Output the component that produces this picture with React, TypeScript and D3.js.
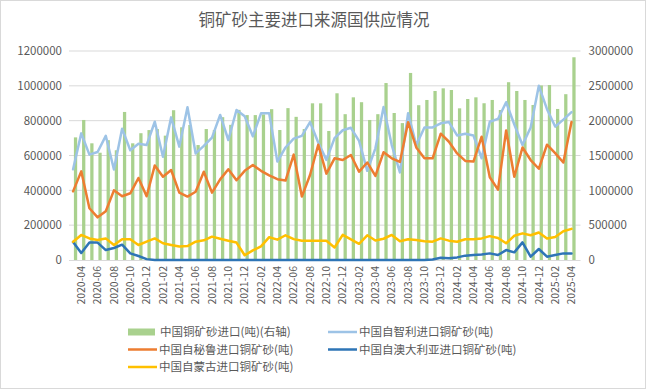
import React, { useEffect, useRef } from "react";
import * as d3 from "d3";

// categories: 2020-03 .. 2025-04 (labels shown every other month from 2020-04)
const months: string[] = d3
  .timeMonths(new Date(2020, 2, 1), new Date(2025, 4, 1))
  .map((d) => d3.timeFormat("%Y-%m")(d));

// 中国铜矿砂进口(吨) - right axis
const totalImports = [
  1760000, 2010000, 1675000, 1540000, 1720000, 1575000, 2125000, 1675000, 1820000, 1865000,
  1880000, 1785000, 2150000, 1905000, 1938000, 1650000, 1880000, 1866000, 2050000, 1940000,
  2155000, 2080000, 2080000, 2090000, 2165000, 1866000, 2180000, 2055000, 1880000, 2249000,
  2249000, 1852000, 2393000, 2093000, 2335000, 2265000, 2010000, 2093000, 2540000, 2110000,
  1965000, 2685000, 2222000, 2297000, 2426000, 2464000, 2440000, 2177000, 2311000, 2335000,
  2250000, 2297000, 2153000, 2552000, 2426000, 2297000, 2225000, 2505000, 2512000, 2168000,
  2380000, 2910000,
];

const chile = [
  521000, 727000, 605000, 620000, 713000, 520000, 754000, 630000, 667000, 660000,
  794000, 593000, 819000, 651000, 877000, 612000, 655000, 703000, 833000, 689000,
  861000, 825000, 710000, 842000, 842000, 565000, 646000, 697000, 713000, 792000,
  675000, 575000, 700000, 745000, 759000, 684000, 512000, 641000, 878000, 660000,
  503000, 843000, 660000, 761000, 761000, 785000, 792000, 715000, 725000, 715000,
  584000, 794000, 810000, 906000, 778000, 660000, 761000, 1000000, 866000, 766000,
  806000, 849000,
];

const peru = [
  394000, 509000, 297000, 245000, 280000, 400000, 366000, 383000, 471000, 366000,
  543000, 478000, 517000, 387000, 364000, 392000, 507000, 387000, 463000, 521000,
  458000, 512000, 545000, 512000, 486000, 464000, 456000, 605000, 364000, 488000,
  662000, 496000, 584000, 574000, 603000, 507000, 560000, 483000, 619000, 584000,
  563000, 791000, 646000, 584000, 584000, 725000, 679000, 612000, 569000, 565000,
  708000, 475000, 404000, 744000, 478000, 646000, 574000, 524000, 662000, 614000,
  560000, 792000,
];

const australia = [
  103000, 40000, 101000, 100000, 57000, 69000, 88000, 38000, 23000, 5000,
  0, 0, 0, 0, 0, 0, 0, 0, 0, 0,
  0, 0, 0, 0, 0, 0, 0, 0, 0, 0,
  0, 0, 0, 0, 0, 0, 0, 0, 0, 0,
  0, 0, 0, 0, 3000, 13000, 10000, 15000, 25000, 29000,
  31000, 38000, 29000, 57000, 44000, 101000, 19000, 63000, 19000, 29000,
  38000, 38000,
];

const mongolia = [
  105000, 144000, 124000, 115000, 124000, 86000, 119000, 119000, 86000, 105000,
  124000, 96000, 86000, 77000, 80000, 105000, 113000, 134000, 122000, 111000,
  100000, 27000, 55000, 78000, 131000, 117000, 142000, 120000, 110000, 110000,
  110000, 110000, 72000, 144000, 119000, 93000, 142000, 112000, 122000, 144000,
  108000, 119000, 115000, 108000, 105000, 124000, 111000, 105000, 119000, 119000,
  124000, 137000, 126000, 96000, 139000, 153000, 142000, 158000, 124000, 132000,
  165000, 179000,
];

const leftTicks = [0, 200000, 400000, 600000, 800000, 1000000, 1200000];
const rightTicks = [0, 500000, 1000000, 1500000, 2000000, 2500000, 3000000];

const lineSeries = [
  { name: "中国自智利进口铜矿砂(吨)", values: chile, color: "#9dc3e6" },
  { name: "中国自秘鲁进口铜矿砂(吨)", values: peru, color: "#ed7d31" },
  { name: "中国自澳大利亚进口铜矿砂(吨)", values: australia, color: "#2e75b6" },
  { name: "中国自蒙古进口铜矿砂(吨)", values: mongolia, color: "#ffc000" },
];

const W = 646;
const H = 389;
const FONT = "'Noto Sans CJK SC', 'Noto Sans', sans-serif";
const TXT = "#595959";

export default function App() {
  const ref = useRef<SVGSVGElement>(null);

  useEffect(() => {
    const svg = d3.select(ref.current);
    svg.selectAll("*").remove();

    const left = 69;
    const right = 580.5;
    const top = 51;
    const bottom = 260;

    const x = d3.scaleBand<string>().domain(months).range([left, right]).padding(0.6);
    const step = x.step();
    const cx = (i: number) => left + step * (i + 0.5);
    const yL = d3.scaleLinear().domain([0, 1200000]).range([bottom, top]);
    const yR = d3.scaleLinear().domain([0, 3000000]).range([bottom, top]);

    // background + frame
    svg.append("rect").attr("x", 0.5).attr("y", 0.5).attr("width", W - 1).attr("height", H - 1)
      .attr("fill", "#fff").attr("stroke", "#d9d9d9");

    // title
    svg.append("text").attr("x", 314).attr("y", 26).attr("text-anchor", "middle")
      .style("font-family", FONT).style("font-size", "16.5px").attr("fill", TXT)
      .text("铜矿砂主要进口来源国供应情况");

    // gridlines
    svg.append("g").selectAll("line").data(leftTicks.slice(1)).join("line")
      .attr("x1", left).attr("x2", right)
      .attr("y1", (d) => yL(d)).attr("y2", (d) => yL(d))
      .attr("stroke", "#d9d9d9").attr("stroke-width", 1);

    // left axis
    const gl = svg.append("g").attr("transform", `translate(${left},0)`)
      .call(d3.axisLeft(yL).tickValues(leftTicks).tickSize(0).tickPadding(7).tickFormat(d3.format("d")));
    gl.select(".domain").remove();
    gl.selectAll("text").style("font-family", FONT).style("font-size", "11.5px").attr("fill", TXT);

    // right axis
    const gr = svg.append("g").attr("transform", `translate(${right},0)`)
      .call(d3.axisRight(yR).tickValues(rightTicks).tickSize(0).tickPadding(8).tickFormat(d3.format("d")));
    gr.select(".domain").remove();
    gr.selectAll("text").style("font-family", FONT).style("font-size", "11.5px").attr("fill", TXT);

    // bars (right axis)
    svg.append("g").selectAll("rect").data(totalImports).join("rect")
      .attr("x", (d, i) => x(months[i])!)
      .attr("y", (d) => yR(d))
      .attr("width", x.bandwidth())
      .attr("height", (d) => bottom - yR(d))
      .attr("fill", "#a9d18e");

    // category axis line
    svg.append("line").attr("x1", left).attr("x2", right).attr("y1", bottom + 0.5).attr("y2", bottom + 0.5)
      .attr("stroke", "#d9d9d9");

    // x labels
    svg.append("g").selectAll("text").data(months.filter((m, i) => i % 2 === 1)).join("text")
      .attr("transform", (m) => `translate(${cx(months.indexOf(m))},${bottom + 6}) rotate(-90)`)
      .attr("text-anchor", "end").attr("dy", "0.35em")
      .style("font-family", FONT).style("font-size", "10.5px").attr("fill", TXT)
      .text((m) => m);

    // lines (left axis)
    const line = d3.line<number>().x((d, i) => cx(i)).y((d) => yL(d));
    svg.append("g").selectAll("path").data(lineSeries).join("path")
      .attr("d", (s) => line(s.values))
      .attr("fill", "none")
      .attr("stroke", (s) => s.color)
      .attr("stroke-width", 2.5)
      .attr("stroke-linejoin", "round")
      .attr("stroke-linecap", "round");

    // legend
    const legend = [
      { name: "中国铜矿砂进口(吨)(右轴)", color: "#a9d18e", bar: true, x: 128, y: 332 },
      { name: lineSeries[0].name, color: lineSeries[0].color, bar: false, x: 328, y: 332 },
      { name: lineSeries[1].name, color: lineSeries[1].color, bar: false, x: 128, y: 349.5 },
      { name: lineSeries[2].name, color: lineSeries[2].color, bar: false, x: 328, y: 349.5 },
      { name: lineSeries[3].name, color: lineSeries[3].color, bar: false, x: 128, y: 367 },
    ];
    const lg = svg.append("g").selectAll("g").data(legend).join("g")
      .attr("transform", (d) => `translate(${d.x},${d.y})`);
    lg.filter((d) => d.bar).append("rect").attr("x", 0).attr("y", -3.5).attr("width", 27).attr("height", 7)
      .attr("fill", (d) => d.color);
    lg.filter((d) => !d.bar).append("line").attr("x1", 0).attr("x2", 29).attr("y1", 0).attr("y2", 0)
      .attr("stroke", (d) => d.color).attr("stroke-width", 2.5);
    lg.append("text").attr("x", (d) => (d.bar ? 32 : 31)).attr("dy", "0.35em")
      .style("font-family", FONT).style("font-size", "11.5px").attr("fill", TXT)
      .text((d) => d.name);
  }, []);

  return (
    <svg ref={ref} width={W} height={H} style={{ position: "absolute", left: 0, top: 0 }} />
  );
}
